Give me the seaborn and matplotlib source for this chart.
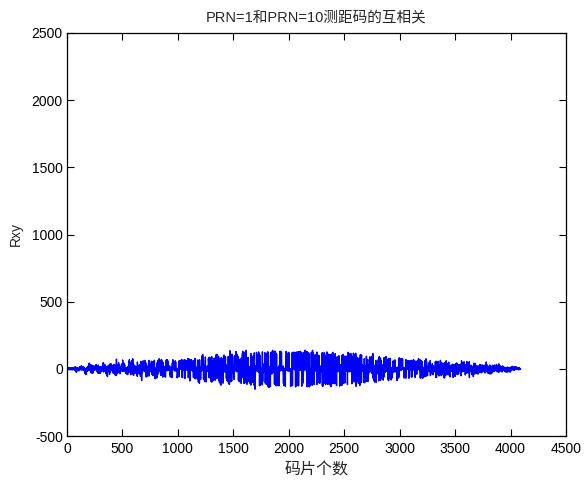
import numpy as np
import pandas as pd
import matplotlib
matplotlib.use("Agg")
import matplotlib.pyplot as plt
import seaborn as sns

# GPS C/A code definition: G2 phase-selector taps for each satellite
prn_ids = [1, 10]
g2_taps = {1: (2, 6), 10: (2, 3)}
code_length = 1023
n_periods = 2

# Axis settings
x_ticks = [0, 500, 1000, 1500, 2000, 2500, 3000, 3500, 4000, 4500]
y_ticks = [-500, 0, 500, 1000, 1500, 2000, 2500]
title_text = "PRN=1和PRN=10测距码的互相关"
x_label = "码片个数"
y_label = "Rxy"


def ca_code(taps):
    g1 = [1] * 10
    g2 = [1] * 10
    chips = []
    for _ in range(code_length):
        g2_out = g2[taps[0] - 1] ^ g2[taps[1] - 1]
        chips.append(g1[9] ^ g2_out)
        f1 = g1[2] ^ g1[9]
        f2 = g2[1] ^ g2[2] ^ g2[5] ^ g2[7] ^ g2[8] ^ g2[9]
        g1 = [f1] + g1[:9]
        g2 = [f2] + g2[:9]
    return 1 - 2 * np.array(chips)


# two code periods of each satellite, full cross-correlation
code_a = np.tile(ca_code(g2_taps[prn_ids[0]]), n_periods)
code_b = np.tile(ca_code(g2_taps[prn_ids[1]]), n_periods)
rxy = np.correlate(code_a, code_b, mode="full")
df = pd.DataFrame({"lag": np.arange(1, len(rxy) + 1), "Rxy": rxy})

sns.set_theme(style="white")
plt.rcParams["font.family"] = ["Liberation Sans", "Noto Sans CJK SC", "DejaVu Sans"]
plt.rcParams["axes.unicode_minus"] = False

fig = plt.figure(figsize=(5.85, 4.82), dpi=100)
ax = fig.add_axes([67 / 585, 1 - 436 / 482, (566 - 67) / 585, (436 - 33) / 482])

sns.lineplot(data=df, x="lag", y="Rxy", color="#0000ff", linewidth=1.0,
             estimator=None, ax=ax)

ax.set_xlim(0, 4500)
ax.set_ylim(-500, 2500)
ax.set_xticks(x_ticks)
ax.set_yticks(y_ticks)
ax.set_xticklabels([str(t) for t in x_ticks])
ax.set_yticklabels([str(t) for t in y_ticks])
ax.tick_params(direction="in", length=5, width=0.8, colors="black",
               labelsize=10, top=True, right=True, bottom=True, left=True)
ax.tick_params(axis="x", pad=4)
ax.tick_params(axis="y", pad=3)
for s in ax.spines.values():
    s.set_visible(True)
    s.set_color("black")
    s.set_linewidth(0.9)

ax.set_title(title_text, fontsize=10.5, pad=8)
ax.set_xlabel(x_label, fontsize=11.5, labelpad=5)
ax.set_ylabel(y_label, fontsize=10, labelpad=6)

fig.savefig("out.png", dpi=100, facecolor="white")
